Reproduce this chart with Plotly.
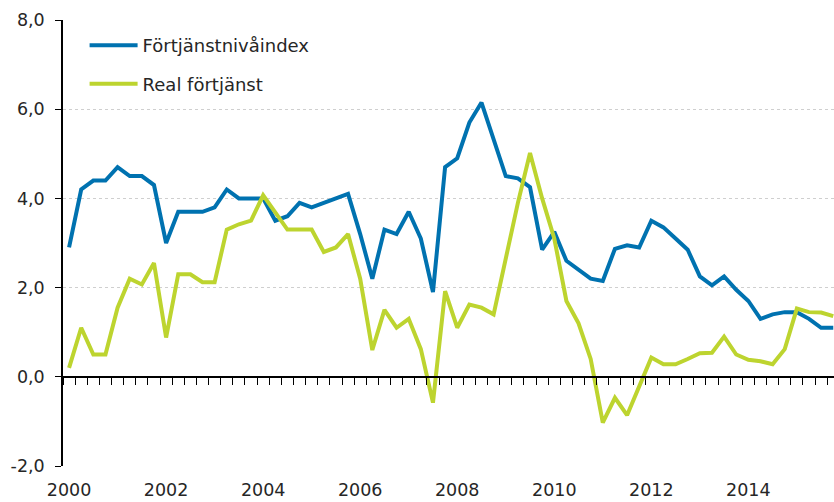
import plotly.graph_objects as go

years = list(range(2000, 2016))
quarters = [f"{y}Q{q}" for y in years for q in range(1, 5)]

fortjanst_index = [
    2.9, 4.2, 4.4, 4.4, 4.7, 4.5, 4.5, 4.3,
    3.0, 3.7, 3.7, 3.7, 3.8, 4.2, 4.0, 4.0,
    4.0, 3.5, 3.6, 3.9, 3.8, 3.9, 4.0, 4.1,
    3.2, 2.2, 3.3, 3.2, 3.7, 3.1, 1.9, 4.7,
    4.9, 5.7, 6.15, 5.3, 4.5, 4.45, 4.25, 2.85,
    3.25, 2.6, 2.4, 2.2, 2.15, 2.87, 2.95, 2.9,
    3.5, 3.35, 3.1, 2.85, 2.25, 2.05, 2.25, 1.95,
    1.7, 1.3, 1.4, 1.45, 1.45, 1.3, 1.1, 1.1,
]
real_fortjanst = [
    0.2, 1.1, 0.5, 0.5, 1.55, 2.2, 2.07, 2.55,
    0.88, 2.3, 2.3, 2.12, 2.12, 3.3, 3.42, 3.5,
    4.07, 3.7, 3.3, 3.3, 3.3, 2.8, 2.9, 3.2,
    2.2, 0.6, 1.5, 1.1, 1.3, 0.62, -0.58, 1.92,
    1.1, 1.62, 1.55, 1.4, 2.7, 3.9, 5.02, 4.0,
    3.1, 1.7, 1.2, 0.4, -1.03, -0.47, -0.86, -0.2,
    0.43, 0.28, 0.28, 0.4, 0.53, 0.54, 0.9, 0.5,
    0.38, 0.35, 0.28, 0.62, 1.53, 1.45, 1.44, 1.36,
]

series_names = ["Förtjänstnivåindex", "Real förtjänst"]
series_colors = ["#0072b0", "#bdd42f"]

year_ticks = [f"{y}Q1" for y in years if y % 2 == 0]
year_labels = [str(y) for y in years if y % 2 == 0]

y_tickvals = [-2, 0, 2, 4, 6, 8]
y_ticktext = ["-2,0", "0,0", "2,0", "4,0", "6,0", "8,0"]

font_family = "DejaVu Sans, Liberation Sans, Arial, sans-serif"
text_color = "#262626"

fig = go.Figure()
for i, (name, vals, col) in enumerate(zip(series_names, [fortjanst_index, real_fortjanst], series_colors)):
    fig.add_trace(go.Scatter(
        x=quarters, y=vals, mode="lines", name=name,
        line=dict(color=col, width=4), legendgroup=f"g{i}",
    ))

# invisible trace carrying the zero-line tick axis
fig.add_trace(go.Scatter(x=quarters, y=[None] * len(quarters), xaxis="x2",
                         showlegend=False, hoverinfo="skip", mode="lines"))

xrange = [-0.5, 63.06]

fig.update_layout(
    width=834, height=502,
    margin=dict(l=63, r=0, t=20, b=36, autoexpand=False),
    paper_bgcolor="white", plot_bgcolor="white",
    font=dict(family=font_family, size=17.5, color=text_color),
    showlegend=True,
    legend=dict(x=0.028, y=0.984, xanchor="left", yanchor="top",
                bgcolor="rgba(0,0,0,0)", font=dict(size=18, color=text_color),
                traceorder="grouped", tracegroupgap=12, itemwidth=48),
    xaxis=dict(type="category", range=xrange, categoryorder="array", categoryarray=quarters,
               tickmode="array", tickvals=year_ticks, ticktext=year_labels,
               showgrid=False, showline=False, ticks="", zeroline=False,
               automargin=False, ticklabelstandoff=11,
               tickfont=dict(size=17.5, color=text_color)),
    xaxis2=dict(type="category", range=xrange, categoryorder="array", categoryarray=quarters,
                overlaying="x", anchor="free", position=0.2,
                tickmode="array", tickvals=quarters, tickson="boundaries",
                ticks="outside", ticklen=7, tickwidth=1.3, tickcolor="black",
                showticklabels=False, showgrid=False, showline=True,
                linecolor="black", linewidth=1.5, zeroline=False, automargin=False),
    yaxis=dict(range=[-2, 8], tickmode="array", tickvals=y_tickvals, ticktext=y_ticktext,
               showline=True, linecolor="black", linewidth=1.5,
               ticks="outside", ticklen=6, tickwidth=1.3, tickcolor="black",
               showgrid=True, gridcolor="#cfcfcf", griddash="dot", gridwidth=1,
               zeroline=False, automargin=False, ticklabelstandoff=7,
               tickfont=dict(size=17.5, color=text_color)),
)

fig.write_html("out.html",
               config={"displayModeBar": False},
               post_script="document.body.style.margin='0';document.body.style.overflow='hidden';")
